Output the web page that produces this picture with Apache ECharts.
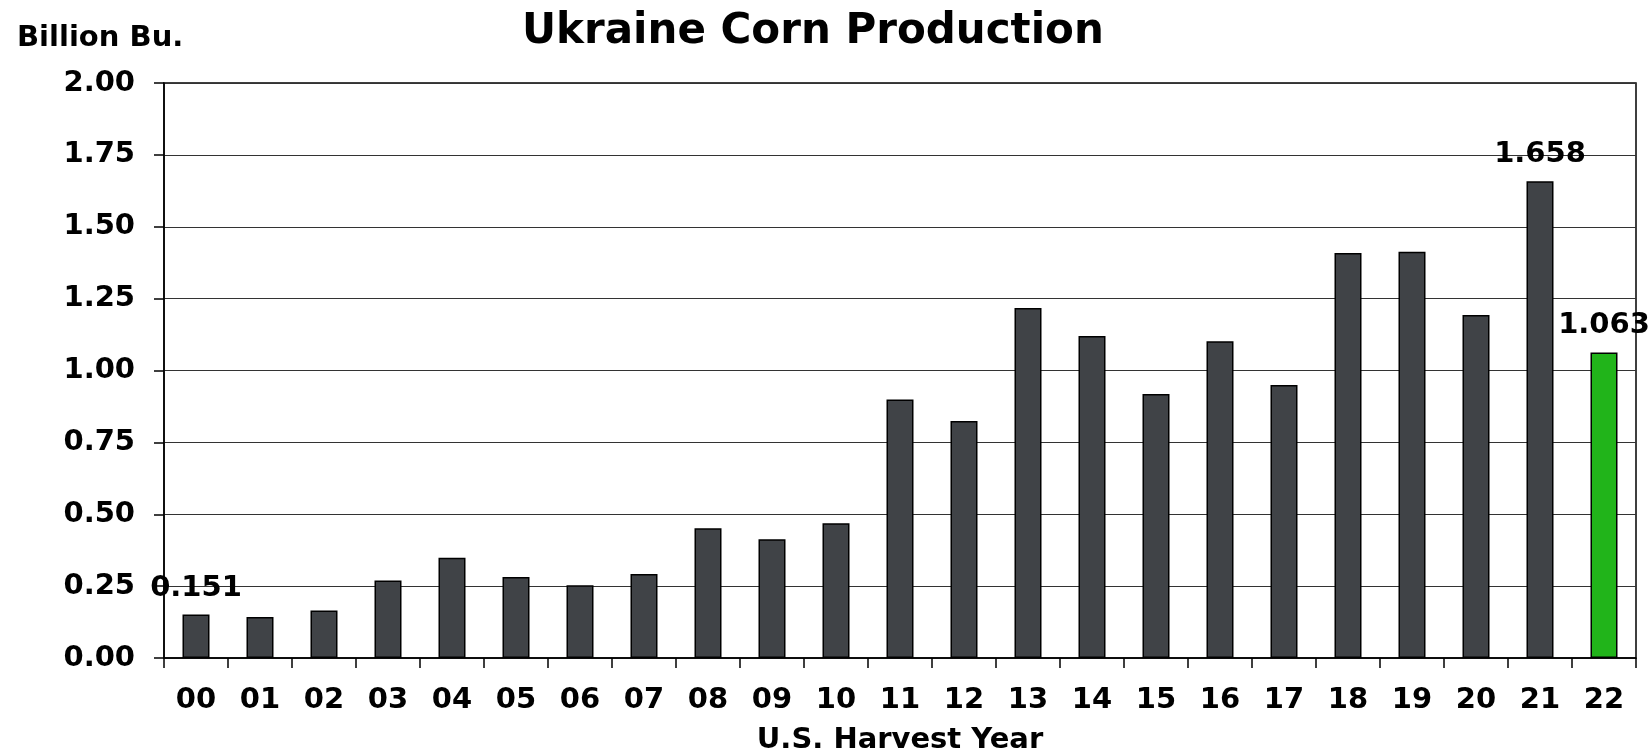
<!DOCTYPE html>
<html>
<head>
<meta charset="utf-8">
<script src="https://cdn.jsdelivr.net/npm/echarts@6/dist/echarts.min.js"></script>
<style>
  html, body { margin: 0; padding: 0; background: #fff; }
  #chart { width: 1652px; height: 751px; }
</style>
</head>
<body>
<div id="chart"></div>
<script>
// harvest years (2-digit)
const years = ['00', '01', '02', '03', '04', '05', '06', '07', '08', '09', '10', '11',
  '12', '13', '14', '15', '16', '17', '18', '19', '20', '21', '22']
// production, billion bushels
const production = [0.151, 0.143, 0.165, 0.270, 0.349, 0.282, 0.253, 0.292, 0.451, 0.413,
  0.469, 0.899, 0.824, 1.217, 1.120, 0.918, 1.102, 0.950, 1.409, 1.413, 1.193, 1.658, 1.063]
// bars that get a value label
const labelled = ['00', '21', '22']
const projectedYear = '22'

const font = 'DejaVu Sans, Verdana, sans-serif'

const chart = echarts.init(document.getElementById('chart'))

chart.setOption({
  animation: false,
  title: [
    {
      text: 'Ukraine Corn Production',
      left: 517,
      top: 6,
      textStyle: { fontFamily: font, fontWeight: 'bold', fontSize: 42, color: '#000' }
    },
    {
      text: 'Billion Bu.',
      left: 12,
      top: 19,
      textStyle: { fontFamily: font, fontWeight: 'bold', fontSize: 29, color: '#000' }
    }
  ],
  grid: {
    left: 164,
    right: 16,
    top: 83,
    bottom: 93,
    outerBoundsMode: 'none',
    show: true,
    borderColor: '#000',
    borderWidth: 1.5
  },
  xAxis: {
    type: 'category',
    data: years,
    name: 'U.S. Harvest Year',
    nameLocation: 'middle',
    nameGap: 68,
    nameTextStyle: { fontFamily: font, fontWeight: 'bold', fontSize: 29, color: '#000' },
    axisLine: { lineStyle: { color: '#000', width: 1.5 } },
    axisTick: { show: true, length: 10, lineStyle: { color: '#000', width: 1.5 } },
    axisLabel: { fontFamily: font, fontWeight: 'bold', fontSize: 29, color: '#000', margin: 28, interval: 0 }
  },
  yAxis: {
    type: 'value',
    min: 0,
    max: 2,
    interval: 0.25,
    axisLine: { show: true, lineStyle: { color: '#000', width: 1.5 } },
    axisTick: { show: true, length: 10, lineStyle: { color: '#000', width: 1.5 } },
    axisLabel: {
      fontFamily: font, fontWeight: 'bold', fontSize: 29, color: '#000', margin: 29,
      formatter: v => v.toFixed(2)
    },
    splitLine: { lineStyle: { color: '#333', width: 1 } }
  },
  series: [
    {
      type: 'bar',
      barWidth: 27,
      data: production.map((v, i) => ({
        value: v,
        itemStyle: { color: years[i] === projectedYear ? '#21B41A' : '#404347' },
        label: { show: labelled.includes(years[i]) }
      })),
      itemStyle: { borderColor: '#000', borderWidth: 1.5 },
      label: {
        position: 'top',
        distance: 12,
        fontFamily: font,
        fontWeight: 'bold',
        fontSize: 29,
        color: '#000',
        formatter: p => p.value.toFixed(3)
      }
    }
  ]
})
</script>
</body>
</html>
